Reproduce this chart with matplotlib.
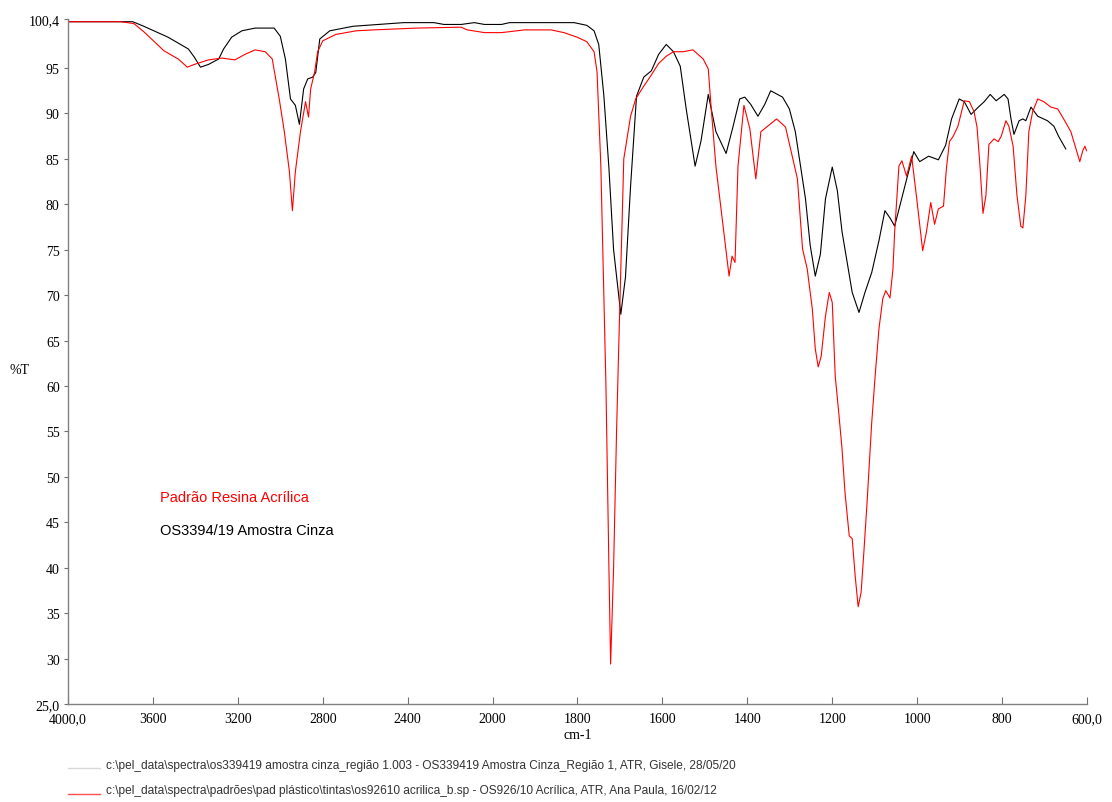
import numpy as np
import matplotlib
matplotlib.use("Agg")
import matplotlib.pyplot as plt

# sample spectrum (OS3394/19 Amostra Cinza) - wavenumber, %T
wn_amostra = [4000, 3695, 3643, 3529, 3433, 3405, 3376, 3338, 3290, 3267, 3229, 3181, 3119,
              3029, 3000, 2976, 2952, 2929, 2910, 2890, 2871, 2848, 2833, 2814, 2767, 2657,
              2419, 2276, 2229, 2148, 2086, 2038, 1979, 1960, 1808, 1778, 1761, 1750, 1738,
              1726, 1715, 1698, 1687, 1675, 1661, 1644, 1626, 1609, 1591, 1574, 1558, 1544,
              1523, 1509, 1492, 1474, 1450, 1434, 1418, 1406, 1392, 1375, 1359, 1345, 1317,
              1301, 1287, 1263, 1252, 1240, 1228, 1216, 1200, 1188, 1177, 1153, 1137, 1123,
              1107, 1090, 1076, 1064, 1053, 1029, 1008, 994, 973, 950, 933, 919, 901, 889,
              873, 856, 842, 828, 814, 795, 786, 779, 772, 760, 751, 744, 732, 716, 693,
              678, 667, 650]
t_amostra = [100.1, 100.1, 99.6, 98.4, 97.1, 96.2, 95.1, 95.4, 96.0, 97.1, 98.4, 99.1, 99.4,
             99.4, 98.5, 96.0, 91.6, 90.9, 88.8, 92.7, 93.8, 94.0, 94.5, 98.2, 99.1, 99.6,
             100.0, 100.0, 99.8, 99.8, 100.0, 99.8, 99.8, 100.0, 100.0, 99.7, 99.1, 97.6, 92.0,
             84.0, 75.0, 67.9, 72.0, 82.0, 91.9, 94.0, 94.7, 96.5, 97.6, 96.8, 95.2, 90.5,
             84.2, 87.0, 92.1, 88.0, 85.6, 88.5, 91.6, 91.8, 91.0, 89.7, 91.0, 92.5, 91.8,
             90.5, 88.0, 80.6, 75.5, 72.1, 74.5, 80.6, 84.1, 81.5, 77.0, 70.3, 68.1, 70.3,
             72.5, 76.0, 79.3, 78.5, 77.6, 82.0, 85.8, 84.7, 85.3, 84.9, 86.5, 89.4, 91.6, 91.3,
             89.9, 90.7, 91.3, 92.1, 91.4, 92.1, 91.6, 89.4, 87.7, 89.2, 89.4, 89.2, 90.7, 89.7, 89.2,
             88.6, 87.5, 86.1]

# acrylic resin standard - wavenumber, %T
wn_padrao = [4000, 3752, 3690, 3643, 3548, 3481, 3438, 3405, 3338, 3276, 3214, 3167, 3119,
             3071, 3038, 3005, 2981, 2957, 2943, 2929, 2905, 2881, 2867, 2857, 2838, 2824,
             2800, 2738, 2643, 2562, 2357, 2148, 2119, 2038, 1979, 1925, 1862, 1832, 1801,
             1778, 1761, 1754, 1745, 1733, 1726, 1722, 1715, 1708, 1703, 1691, 1675, 1663,
             1644, 1628, 1609, 1591, 1574, 1551, 1528, 1504, 1492, 1485, 1474, 1457, 1443,
             1436, 1429, 1422, 1408, 1394, 1380, 1368, 1347, 1331, 1310, 1282, 1270, 1259,
             1247, 1240, 1233, 1226, 1216, 1207, 1200, 1193, 1184, 1177, 1170, 1160, 1153,
             1146, 1139, 1132, 1125, 1118, 1113, 1107, 1099, 1090, 1081, 1074, 1064, 1057,
             1053, 1043, 1036, 1025, 1013, 1001, 987, 978, 968, 959, 950, 938, 931, 924, 915,
             904, 889, 877, 866, 859, 852, 845, 838, 831, 819, 809, 802, 791, 784, 774, 765,
             756, 751, 744, 737, 728, 716, 702, 685, 669, 655, 638, 626, 617, 610, 605, 601]
t_padrao = [100.1, 100.1, 99.9, 99.0, 96.9, 96.0, 95.1, 95.4, 95.9, 96.1, 95.9, 96.5, 97.0,
            96.8, 96.0, 91.6, 88.0, 83.6, 79.3, 83.6, 88.0, 91.3, 89.6, 92.7, 94.6, 96.8,
            98.0, 98.7, 99.1, 99.2, 99.4, 99.5, 99.2, 98.9, 98.9, 99.2, 99.2, 98.9, 98.4,
            97.9, 96.8, 94.6, 84.2, 60.0, 40.0, 29.4, 40.0, 55.0, 64.1, 85.0, 89.7, 91.6,
            93.0, 94.1, 95.5, 96.3, 96.8, 96.8, 97.0, 96.0, 94.9, 90.5, 84.2, 77.6, 72.1,
            74.3, 73.6, 84.2, 90.9, 88.3, 82.8, 88.0, 88.8, 89.4, 88.5, 82.8, 75.1, 72.9,
            68.5, 64.1, 62.1, 63.3, 67.7, 70.3, 69.2, 61.1, 56.7, 53.1, 48.3, 43.5, 43.2,
            39.1, 35.7, 37.3, 42.1, 47.2, 51.2, 56.0, 61.1, 66.3, 69.6, 70.5, 69.7, 72.9,
            77.0, 84.2, 84.8, 83.1, 85.3, 80.6, 74.9, 77.0, 80.2, 77.8, 79.5, 79.8, 84.0, 86.9, 87.5,
            88.6, 91.4, 91.3, 90.2, 88.5, 84.2, 79.0, 81.0, 86.6, 87.2, 86.9, 87.5, 89.2, 88.6, 86.4, 81.0,
            77.6, 77.4, 81.0, 88.0, 90.2, 91.6, 91.3, 90.7, 90.5, 89.4, 88.0, 86.1, 84.7, 85.9, 86.4, 85.9]

x_ticks = [4000, 3600, 3200, 2800, 2400, 2000, 1800, 1600, 1400, 1200, 1000, 800, 600]
x_labels = ["4000,0", "3600", "3200", "2800", "2400", "2000", "1800", "1600", "1400",
            "1200", "1000", "800", "600,0"]
y_ticks = [100.4, 95, 90, 85, 80, 75, 70, 65, 60, 55, 50, 45, 40, 35, 30, 25]
y_labels = ["100,4", "95", "90", "85", "80", "75", "70", "65", "60", "55", "50", "45",
            "40", "35", "30", "25,0"]

footer_1 = ("c:\\pel_data\\spectra\\os339419 amostra cinza_região 1.003 - "
            "OS339419 Amostra Cinza_Região 1, ATR, Gisele, 28/05/20")
footer_2 = ("c:\\pel_data\\spectra\\padrões\\pad plástico\\tintas\\os92610 acrilica_b.sp - "
            "OS926/10 Acrílica, ATR, Ana Paula, 16/02/12")


# PerkinElmer style abscissa: scale halves above 2000 cm-1
def fwd(x):
    x = np.asarray(x, dtype=float)
    return np.where(x > 2000, 2000 + (x - 2000) / 2.0, x)


def inv(u):
    u = np.asarray(u, dtype=float)
    return np.where(u > 2000, 2000 + (u - 2000) * 2.0, u)


serif = "Liberation Serif"
sans = "Liberation Sans"

fig = plt.figure(figsize=(11.12, 8.03), dpi=100)
ax = fig.add_axes([68 / 1112, 1 - 705 / 803, (1087 - 68) / 1112, (705 - 20) / 803])

ax.plot(wn_amostra, t_amostra, color="black", lw=0.8)
ax.plot(wn_padrao, t_padrao, color="red", lw=0.8)

ax.set_xscale("function", functions=(fwd, inv))
ax.set_xlim(4000, 600)
ax.set_ylim(25, 100.4)

ax.set_xticks(x_ticks)
ax.set_xticklabels(x_labels, fontfamily=serif, fontsize=10)
ax.set_yticks(y_ticks)
ax.set_yticklabels(y_labels, fontfamily=serif, fontsize=10)
ax.tick_params(axis="x", direction="in", length=5, width=0.8, color="#707070", pad=6)
ax.tick_params(axis="y", direction="out", length=3, width=0.8, color="#707070", pad=3)
ax.minorticks_off()

for s in ["top", "right"]:
    ax.spines[s].set_visible(False)
for s in ["left", "bottom"]:
    ax.spines[s].set_color("#808080")
    ax.spines[s].set_linewidth(1.0)

ax.set_xlabel("cm-1", fontfamily=serif, fontsize=10, labelpad=2)
fig.text(20 / 1112, 1 - 370 / 803, "%T", fontfamily=serif, fontsize=10,
         ha="center", va="center")

fig.text(160 / 1112, 1 - 498 / 803, "Padrão Resina Acrílica", color="red",
         fontfamily=sans, fontsize=10.5, va="center")
fig.text(160 / 1112, 1 - 531 / 803, "OS3394/19 Amostra Cinza", color="black",
         fontfamily=sans, fontsize=10.5, va="center")

# footer legend
fig.add_artist(plt.Line2D([68 / 1112, 100 / 1112], [1 - 769 / 803] * 2,
                          color="#d8d8d8", lw=1.0))
fig.add_artist(plt.Line2D([68 / 1112, 100 / 1112], [1 - 795 / 803] * 2,
                          color="#ff5050", lw=1.0))
fig.text(106 / 1112, 1 - 766 / 803, footer_1, fontfamily=sans, fontsize=8.6,
         color="#333333", va="center")
fig.text(106 / 1112, 1 - 791 / 803, footer_2, fontfamily=sans, fontsize=8.6,
         color="#333333", va="center")

fig.savefig("out.png", dpi=100)
